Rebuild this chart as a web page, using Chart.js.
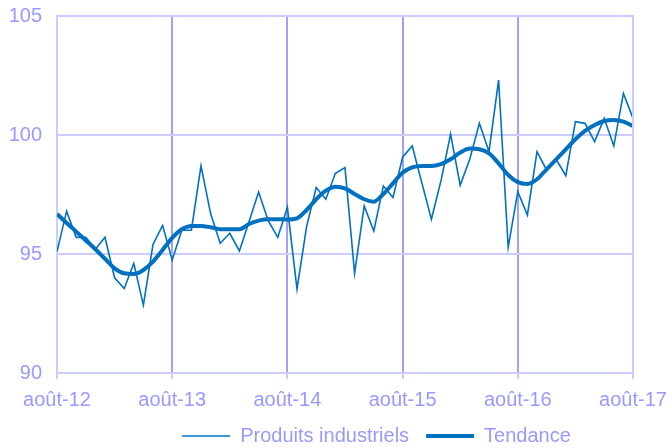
<!doctype html>
<html lang="fr">
<head>
<meta charset="utf-8" />
<title>Produits industriels</title>
<script src="https://cdn.jsdelivr.net/npm/chart.js"></script>
<style>
  html, body { margin: 0; padding: 0; background: #fff; }
  #wrap { width: 672px; height: 448px; }
</style>
</head>
<body>
<div id="wrap"><canvas id="chart" width="672" height="448"></canvas></div>
<script>
// monthly index, août-12 = 0 ... août-17 = 60
const tickLabels = ['août-12', 'août-13', 'août-14', 'août-15', 'août-16', 'août-17'];

const produits = [
  95.1, 96.8, 95.7, 95.7, 95.2, 95.7, 94.0, 93.55, 94.6, 92.85, 95.4, 96.2,
  94.75, 96.0, 96.0, 98.7, 96.7, 95.45, 95.87, 95.13, 96.36, 97.6, 96.4, 95.7,
  96.96, 93.53, 96.15, 97.79, 97.3, 98.39, 98.63, 94.19, 97.02, 95.97, 97.86, 97.37,
  99.07, 99.54, 98.0, 96.46, 98.08, 100.04, 97.89, 98.99, 100.49, 99.3, 102.31, 95.28,
  97.62, 96.64, 99.3, 98.53, 98.98, 98.29, 100.56, 100.49, 99.72, 100.7, 99.54, 101.75,
  100.7
];

const tendance = [
  96.68, 96.3, 95.94, 95.57, 95.2, 94.8, 94.4, 94.19, 94.16, 94.33, 94.68, 95.17,
  95.68, 96.04, 96.18, 96.18, 96.12, 96.04, 96.04, 96.04, 96.26, 96.4, 96.46, 96.46,
  96.45, 96.5, 96.85, 97.3, 97.66, 97.83, 97.76, 97.52, 97.3, 97.2, 97.52, 97.97,
  98.42, 98.64, 98.7, 98.7, 98.78, 98.98, 99.26, 99.43, 99.4, 99.23, 98.81, 98.32,
  98.02, 97.94, 98.14, 98.56, 98.98, 99.4, 99.82, 100.17, 100.42, 100.59, 100.63, 100.56,
  100.38
];

const blue = '#0070c0';
const textColor = '#9999ff';
const lightGrid = '#ccccff';
const darkGrid = '#a0a0ff';
const font = { family: '"Liberation Sans", Arial, sans-serif', size: 20 };

const toPoints = (values) => values.map((y, x) => ({ x, y }));

new Chart(document.getElementById('chart'), {
  type: 'line',
  data: {
    datasets: [
      {
        label: 'Produits industriels',
        data: toPoints(produits),
        borderColor: blue,
        backgroundColor: blue,
        borderWidth: 1.6,
        pointRadius: 0,
        tension: 0,
      },
      {
        label: 'Tendance',
        data: toPoints(tendance),
        borderColor: blue,
        backgroundColor: blue,
        borderWidth: 4,
        pointRadius: 0,
        tension: 0.4,
        cubicInterpolationMode: 'monotone',
      },
    ],
  },
  options: {
    responsive: false,
    animation: false,
    devicePixelRatio: 1,
    layout: { padding: { left: 0, right: 39, top: 16, bottom: -8 } },
    plugins: {
      tooltip: { enabled: false },
      legend: {
        position: 'bottom',
        labels: {
          font,
          color: textColor,
          usePointStyle: true,
          pointStyle: 'line',
          pointStyleWidth: 48,
          padding: 17,
        },
      },
    },
    scales: {
      x: {
        type: 'linear',
        min: 0,
        max: 60,
        afterFit: (scale) => {
          scale.height = 36;
          scale.paddingLeft = 0;
          scale.paddingRight = 0;
        },
        ticks: {
          stepSize: 12,
          autoSkip: false,
          maxRotation: 0,
          padding: 9,
          font,
          color: textColor,
          callback: (value) => tickLabels[value / 12],
        },
        grid: {
          color: (ctx) => (ctx.index === 0 || ctx.index === 5 ? lightGrid : darkGrid),
          lineWidth: 2,
          tickLength: 6,
          tickColor: lightGrid,
        },
        border: { color: lightGrid, width: 2 },
      },
      y: {
        min: 90,
        max: 105,
        afterFit: (scale) => {
          scale.width = 57;
          scale.paddingTop = 0;
          scale.paddingBottom = 0;
        },
        ticks: {
          stepSize: 5,
          padding: 15,
          font,
          color: textColor,
        },
        grid: {
          color: lightGrid,
          lineWidth: 2,
          drawTicks: false,
        },
        border: { color: lightGrid, width: 2 },
      },
    },
  },
  plugins: [{
    id: 'shiftLegend',
    afterLayout(chart) {
      // the legend sits a bit right of centre in the source picture
      chart.legend.left += 60;
      chart.legend.right += 60;
    },
  }, {
    id: 'frame',
    afterDraw(chart) {
      const { ctx, chartArea } = chart;
      ctx.save();
      ctx.strokeStyle = lightGrid;
      ctx.lineWidth = 2;
      ctx.beginPath();
      ctx.moveTo(chartArea.left, chartArea.top);
      ctx.lineTo(chartArea.right, chartArea.top);
      ctx.lineTo(chartArea.right, chartArea.bottom);
      ctx.stroke();
      ctx.restore();
    },
  }],
});
</script>
</body>
</html>
